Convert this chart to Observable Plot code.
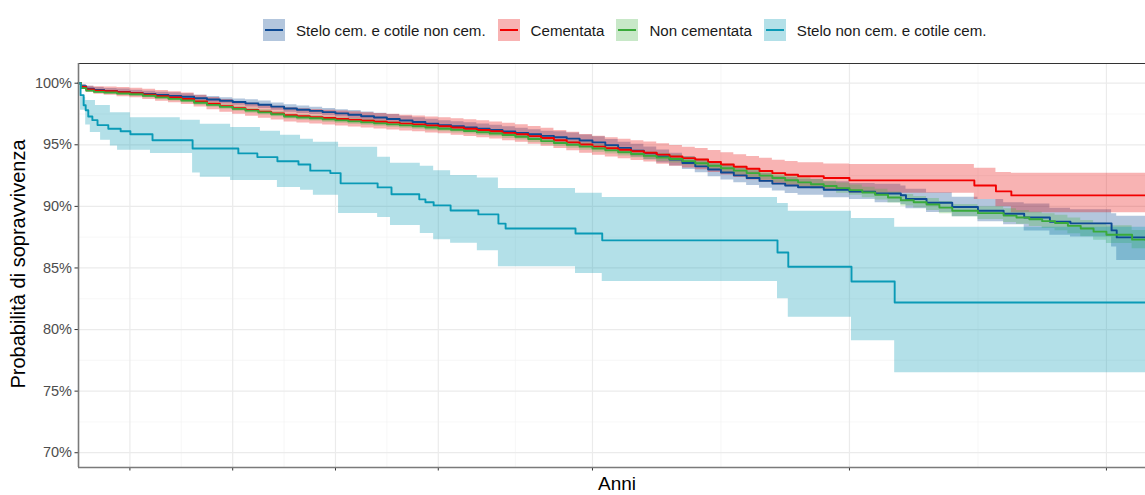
<!DOCTYPE html>
<html>
<head>
<meta charset="utf-8">
<script src="https://cdn.jsdelivr.net/npm/d3@7"></script>
<script src="https://cdn.jsdelivr.net/npm/@observablehq/plot@0.6"></script>
<style>
  html, body { margin:0; padding:0; background:#fff; }
  body { width:1145px; height:495px; position:relative; overflow:hidden; font-family:"Liberation Sans", Arial, sans-serif; }
  #legend { position:absolute; left:263px; top:19px; display:flex; align-items:center; font-size:15.1px; color:#1a1a1a; white-space:nowrap; }
  .item { display:flex; align-items:center; margin-right:12px; }
  .key { width:22px; height:22px; position:relative; margin-right:11px; }
  .key i { position:absolute; left:2px; right:2px; top:10px; height:2px; }
  #chart { position:absolute; left:0; top:60px; }
  #ytitle { position:absolute; left:18px; top:264px; transform:translate(-50%,-50%) rotate(-90deg); font-size:20px; white-space:nowrap; color:#000; }
  #xtitle { position:absolute; left:617px; top:484px; transform:translate(-50%,-50%); font-size:19px; line-height:20px; color:#000; }
</style>
</head>
<body>
<div id="legend"></div>
<div id="chart"></div>
<div id="ytitle">Probabilità di sopravvivenza</div>
<div id="xtitle">Anni</div>
<script>
// ---- Series names and colours ----
const groups = ["Stelo cem. e cotile non cem.", "Cementata", "Non cementata", "Stelo non cem. e cotile cem."];
const lineColors = ["#0d4a94", "#f20000", "#3aaa3a", "#0a9ab6"];
const fillColors = ["#02418e", "#e80202", "#48b248", "#0298b2"];

// ---- Axis breaks (years / percent) ----
const xMajor = [1, 3, 5, 7, 10, 15, 20];
const xMinor = [2, 4, 6, 8.5, 12.5, 17.5];
const yMajor = [70, 75, 80, 85, 90, 95, 100];
const yMinor = [72.5, 77.5, 82.5, 87.5, 92.5, 97.5];
const xDomain = [0, 20.76];
const yDomain = [68.8, 101.6];

// ---- Kaplan-Meier rows: [anni, sopravvivenza %, IC inf %, IC sup %] ----
const steloCem = [
[0,100,100,100],[0.05,99.75,99.6,99.9],[0.15,99.55,99.35,99.75],[0.3,99.45,99.25,99.65],[0.5,99.38,99.18,99.58],
[0.75,99.3,99.08,99.52],[1,99.2,98.98,99.42],[1.25,99.12,98.9,99.34],[1.5,99.04,98.82,99.26],[1.75,98.97,98.72,99.22],
[2,98.9,98.65,99.15],[2.25,98.78,98.53,99.03],[2.5,98.68,98.43,98.93],[2.75,98.57,98.32,98.82],[3,98.47,98.22,98.72],
[3.25,98.36,98.06,98.66],[3.5,98.25,97.95,98.55],[3.75,98.1,97.8,98.4],[4,97.95,97.65,98.25],[4.25,97.85,97.55,98.15],
[4.5,97.75,97.45,98.05],[4.75,97.65,97.35,97.95],[5,97.55,97.25,97.85],[5.25,97.44,97.09,97.79],[5.5,97.32,96.97,97.67],
[5.75,97.21,96.86,97.56],[6,97.1,96.75,97.45],[6.25,96.97,96.62,97.32],[6.5,96.85,96.5,97.2],[6.75,96.72,96.37,97.07],
[7,96.6,96.25,96.95],[7.25,96.5,96.12,96.88],[7.5,96.4,96.02,96.78],[7.75,96.3,95.92,96.68],[8,96.2,95.82,96.58],
[8.25,96.08,95.7,96.46],[8.5,95.97,95.59,96.35],[8.75,95.85,95.47,96.23],[9,95.72,95.34,96.1],[9.25,95.61,95.16,96.06],
[9.5,95.5,95.05,95.95],[9.75,95.35,94.9,95.8],[10,95.2,94.75,95.65],[10.25,94.97,94.52,95.42],[10.5,94.75,94.3,95.2],
[10.75,94.52,94.0,95.04],[11,94.3,93.78,94.82],[11.25,94.05,93.53,94.57],[11.5,93.8,93.28,94.32],[11.75,93.52,93.0,94.04],
[12,93.25,92.73,93.77],[12.25,93.0,92.4,93.6],[12.5,92.75,92.15,93.35],[12.75,92.52,91.92,93.12],[13,92.3,91.7,92.9],
[13.25,92.07,91.47,92.67],[13.5,91.85,91.25,92.45],[13.75,91.7,91.05,92.35],[14,91.55,90.9,92.2],[14.5,91.35,90.7,92.0],
[15,91.2,90.55,91.85],[15.5,91.05,90.3,91.8],[16,90.9,90.15,91.65],[16.1,90.6,89.8,91.4],[16.5,90.3,89.5,91.1],
[17,89.95,89.15,90.75],[17.5,89.65,88.75,90.55],[18,89.4,88.5,90.3],[18.4,89.1,88.0,90.2],[18.9,88.75,87.65,89.85],
[19.3,88.62,87.52,89.72],[20.1,88.05,86.7,89.4],[20.2,87.48,85.6,89.2],[20.76,87.48,85.6,89.2]
];

const cementata = [
[0,100,100,100],[0.05,99.7,99.55,99.85],[0.15,99.5,99.25,99.75],[0.3,99.4,99.1,99.72],[0.5,99.35,99.02,99.7],
[0.75,99.27,98.91,99.66],[1,99.19,98.81,99.6],[1.25,99.07,98.68,99.5],[1.5,98.95,98.54,99.4],[1.75,98.84,98.41,99.31],
[2,98.72,98.27,99.2],[2.25,98.52,98.06,99.02],[2.5,98.33,97.85,98.84],[2.75,98.14,97.65,98.67],[3,97.97,97.47,98.52],
[3.25,97.82,97.31,98.38],[3.5,97.68,97.16,98.25],[3.75,97.54,97.01,98.12],[4,97.4,96.85,98.0],[4.25,97.32,96.76,97.93],
[4.5,97.25,96.69,97.87],[4.75,97.17,96.6,97.8],[5,97.1,96.53,97.75],[5.25,97.02,96.44,97.68],[5.5,96.95,96.37,97.61],
[5.75,96.87,96.28,97.54],[6,96.8,96.21,97.47],[6.25,96.72,96.12,97.4],[6.5,96.65,96.05,97.33],[6.75,96.57,95.96,97.26],
[7,96.5,95.89,97.2],[7.25,96.4,95.78,97.12],[7.5,96.3,95.68,97.03],[7.75,96.2,95.57,96.95],[8,96.1,95.47,96.85],
[8.25,95.97,95.33,96.74],[8.5,95.85,95.2,96.63],[8.75,95.7,95.04,96.49],[9,95.55,94.88,96.35],[9.25,95.37,94.69,96.17],
[9.5,95.2,94.51,96.01],[9.75,95.02,94.32,95.84],[10,94.85,94.15,95.7],[10.25,94.72,94.0,95.57],[10.5,94.6,93.87,95.45],
[10.75,94.47,93.72,95.33],[11,94.35,93.6,95.22],[11.25,94.2,93.42,95.08],[11.5,94.05,93.26,94.94],[11.75,93.92,93.11,94.81],
[12,93.8,92.98,94.7],[12.25,93.6,92.76,94.53],[12.5,93.4,92.54,94.35],[12.75,93.22,92.34,94.2],[13,93.05,92.15,94.05],
[13.25,92.87,91.95,93.9],[13.5,92.7,91.75,93.75],[13.75,92.57,91.6,93.65],[14,92.45,91.45,93.55],[14.5,92.3,91.28,93.45],
[15,92.11,91.06,93.4],[17.43,91.7,90.55,93.1],[17.85,91.22,89.97,92.75],[18.15,90.89,89.49,92.68],[20.76,90.89,89.49,92.68]
];

const nonCementata = [
[0,100,100,100],[0.05,99.6,99.5,99.7],[0.15,99.4,99.28,99.52],[0.3,99.3,99.17,99.43],[0.5,99.25,99.11,99.39],
[0.75,99.17,99.02,99.32],[1,99.1,98.95,99.25],[1.25,98.98,98.82,99.14],[1.5,98.85,98.68,99.02],[1.75,98.73,98.56,98.9],
[2,98.6,98.42,98.78],[2.25,98.41,98.22,98.6],[2.5,98.24,98.05,98.43],[2.75,98.08,97.88,98.28],[3,97.92,97.72,98.12],
[3.25,97.77,97.57,97.97],[3.5,97.63,97.42,97.84],[3.75,97.48,97.27,97.69],[4,97.3,97.09,97.51],[4.25,97.22,97.0,97.44],
[4.5,97.15,96.93,97.37],[4.75,97.06,96.84,97.28],[5,96.98,96.75,97.21],[5.25,96.9,96.67,97.13],[5.5,96.82,96.59,97.05],
[5.75,96.74,96.5,96.98],[6,96.66,96.42,96.9],[6.25,96.58,96.34,96.82],[6.5,96.5,96.26,96.74],[6.75,96.4,96.15,96.65],
[7,96.3,96.05,96.55],[7.25,96.21,95.96,96.46],[7.5,96.12,95.87,96.37],[7.75,96.02,95.76,96.28],[8,95.92,95.66,96.18],
[8.25,95.79,95.52,96.06],[8.5,95.65,95.38,95.92],[8.75,95.47,95.19,95.75],[9,95.3,95.02,95.58],[9.25,95.15,94.87,95.43],
[9.5,95.0,94.71,95.29],[9.75,94.85,94.56,95.14],[10,94.7,94.4,95.0],[10.25,94.55,94.25,94.85],[10.5,94.4,94.09,94.71],
[10.75,94.25,93.94,94.56],[11,94.1,93.78,94.42],[11.25,93.97,93.65,94.29],[11.5,93.85,93.52,94.18],[11.75,93.67,93.34,94.0],
[12,93.5,93.16,93.84],[12.25,93.3,92.96,93.64],[12.5,93.1,92.75,93.45],[12.75,92.9,92.55,93.25],[13,92.7,92.34,93.06],
[13.25,92.5,92.14,92.86],[13.5,92.3,91.93,92.67],[13.75,92.12,91.75,92.49],[14,91.95,91.57,92.33],[14.25,91.8,91.41,92.19],
[14.5,91.65,91.25,92.05],[14.75,91.48,91.07,91.89],[15,91.32,90.9,91.74],[15.25,91.13,90.7,91.56],[15.5,90.95,90.51,91.39],
[15.75,90.72,90.27,91.17],[16,90.5,90.04,90.96],[16.25,90.33,89.86,90.8],[16.5,90.15,89.67,90.63],[16.75,89.9,89.41,90.39],
[17,89.65,89.15,90.15],[17.5,89.45,88.93,89.97],[18,89.25,88.7,89.8],[18.25,89.1,88.54,89.66],[18.5,88.95,88.37,89.53],
[18.75,88.8,88.2,89.4],[19,88.65,88.03,89.27],[19.25,88.42,87.78,89.06],[19.5,88.2,87.54,88.86],[19.75,87.95,87.26,88.64],
[20,87.7,86.98,88.42],[20.5,87.3,86.55,88.05],[20.76,87.24,86.49,87.99]
];

// Stelo non cem. e cotile cem.: curve [anni, %] and band [anni, IC inf %, IC sup %]
const steloNonCemCurve = [
[0,100],[0.04,99.02],[0.1,98.21],[0.14,97.8],[0.19,97.3],[0.27,97.0],[0.37,96.6],[0.58,96.3],[0.82,96.1],[1.01,95.85],
[1.44,95.37],[2.22,94.7],[3.11,94.3],[3.48,94.0],[3.87,93.66],[4.28,93.4],[4.51,92.9],[4.9,92.7],[5.1,91.87],[5.82,91.54],
[6.09,90.98],[6.63,90.57],[6.75,90.33],[6.91,90.08],[7.24,89.67],[7.78,89.35],[8.17,88.6],[8.31,88.2],[9.67,87.8],[10.19,87.24],
[13.6,86.26],[13.81,85.1],[15.04,83.9],[15.88,82.2],[20.76,82.2]
];
const steloNonCemBand = [
[0,100,100],[0.04,97.8,98.86],[0.14,96.6,98.6],[0.23,96.0,98.6],[0.33,96.0,98.2],[0.43,95.37,98.2],[0.62,94.9,97.6],
[0.76,94.55,97.6],[1.01,94.55,97.2],[1.4,94.3,97.2],[1.98,94.3,97.0],[2.22,92.7,97.0],[2.37,92.36,96.67],[2.96,92.1,96.4],
[3.54,92.1,96.1],[3.87,91.54,96.1],[3.93,91.54,95.77],[4.32,91.3,95.45],[4.57,90.9,95.2],[5.06,89.43,94.8],[5.82,89.1,93.98],
[6.07,88.45,93.5],[6.65,87.8,93.25],[6.91,87.3,92.9],[7.24,87.0,92.5],[7.76,86.4,92.3],[8.17,85.1,91.46],[9.67,84.55,91.06],
[10.19,83.9,90.73],[13.6,82.5,90.24],[13.81,81.0,89.6],[15.04,79.1,89.02],[15.88,76.5,88.3],[20.76,76.5,88.3]
];

// ---- Build tables ----
const kmRows = [steloCem, cementata, nonCementata];
const lineTables = kmRows.map(rows => rows.map(([t, s]) => ({t, s})))
  .concat([steloNonCemCurve.map(([t, s]) => ({t, s}))]);
const bandTables = kmRows.map(rows => rows.map(([t, s, lo, hi]) => ({t, lo, hi})))
  .concat([steloNonCemBand.map(([t, lo, hi]) => ({t, lo, hi}))]);

// ---- Legend ----
const legend = document.getElementById("legend");
groups.forEach((g, i) => {
  const item = document.createElement("div");
  item.className = "item";
  const key = document.createElement("div");
  key.className = "key";
  const c = d3.color(fillColors[i]); c.opacity = 0.3;
  key.style.background = c.formatRgb();
  const ln = document.createElement("i");
  ln.style.background = lineColors[i];
  key.appendChild(ln);
  const lab = document.createElement("span");
  lab.textContent = g;
  item.appendChild(key); item.appendChild(lab);
  legend.appendChild(item);
});

// ---- Chart ----
const marks = [
  Plot.gridY(yMinor, {stroke: "#f2f2f2", strokeOpacity: 1, strokeWidth: 0.6}),
  Plot.gridX(xMinor, {stroke: "#f2f2f2", strokeOpacity: 1, strokeWidth: 0.6}),
  Plot.gridY(yMajor, {stroke: "#ebebeb", strokeOpacity: 1, strokeWidth: 1.2}),
  Plot.gridX(xMajor, {stroke: "#ebebeb", strokeOpacity: 1, strokeWidth: 1.2})
];
bandTables.forEach((d, i) => marks.push(
  Plot.areaY(d, {x: "t", y1: "lo", y2: "hi", fill: fillColors[i], fillOpacity: 0.3, curve: "step-after"})
));
lineTables.forEach((d, i) => marks.push(
  Plot.line(d, {x: "t", y: "s", stroke: lineColors[i], strokeWidth: 1.9, curve: "step-after"})
));
marks.push(
  Plot.axisY(yMajor, {tickFormat: d => d + "%", fontSize: 14.5, fill: "#4d4d4d", stroke: "#333", tickSize: 3.5, tickPadding: 3, label: null}),
  Plot.axisX(xMajor, {tickFormat: () => "", stroke: "#333", tickSize: 3.5, label: null}),
  Plot.ruleY([yDomain[1]], {stroke: "#333", strokeWidth: 1}),
  Plot.ruleY([yDomain[0]], {stroke: "#7a7a7a", strokeWidth: 1.6}),
  Plot.ruleX([xDomain[0]], {stroke: "#7a7a7a", strokeWidth: 1.6})
);

const chart = Plot.plot({
  width: 1145, height: 435,
  marginLeft: 78, marginRight: 0, marginTop: 3, marginBottom: 28,
  x: {domain: xDomain},
  y: {domain: yDomain},
  style: {fontFamily: "'Liberation Sans', Arial, sans-serif", background: "transparent", overflow: "visible"},
  marks
});
document.getElementById("chart").appendChild(chart);
</script>
</body>
</html>
